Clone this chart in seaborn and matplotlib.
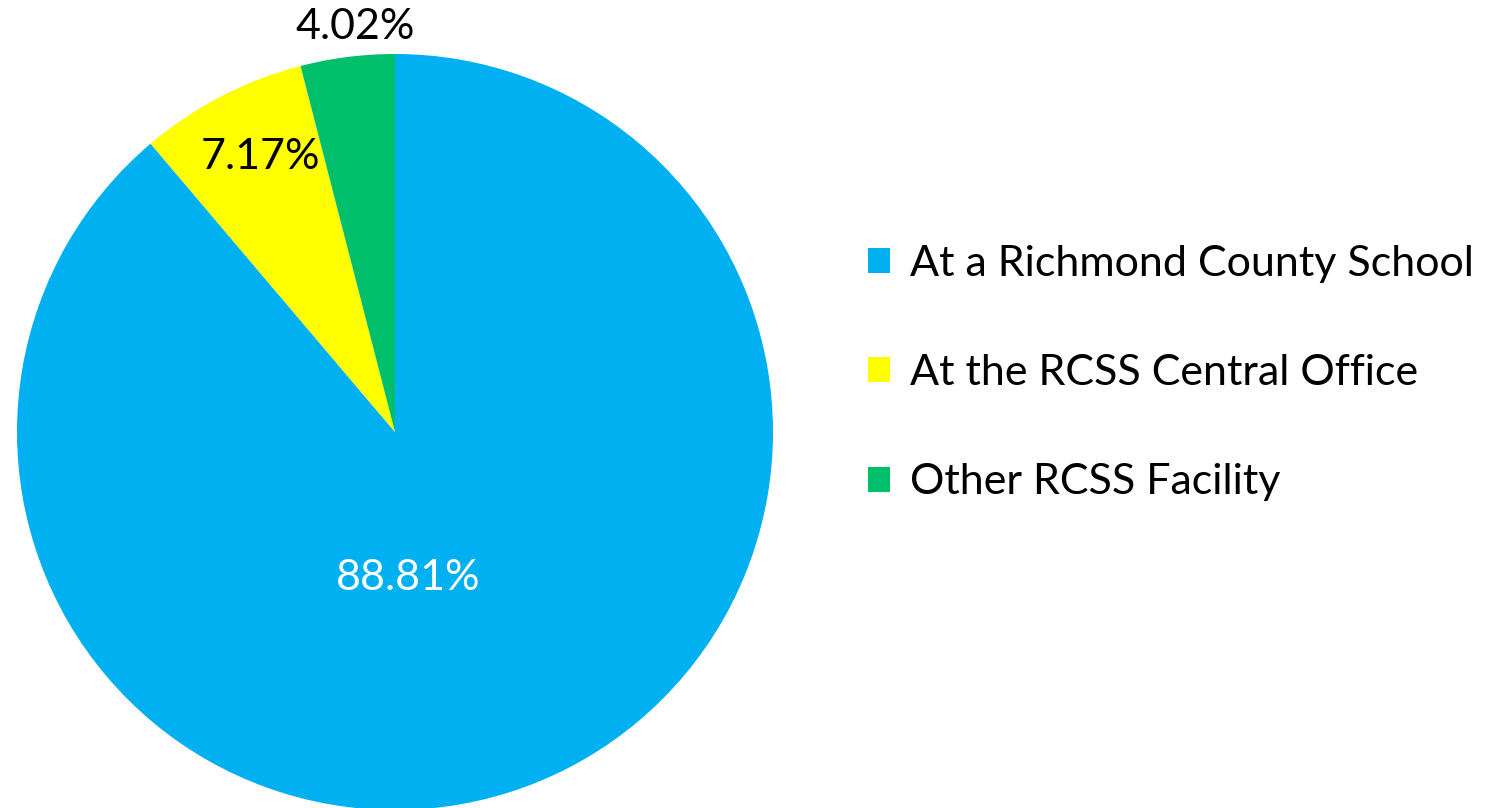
import matplotlib
matplotlib.use('Agg')
import matplotlib.pyplot as plt
import seaborn as sns
import numpy as np

sns.set_theme(style='white')
plt.rcParams['font.family'] = ['Lato', 'DejaVu Sans']
plt.rcParams['text.color'] = 'black'

# data
categories = ['At a Richmond County School', 'At the RCSS Central Office', 'Other RCSS Facility']
shares = [88.81, 7.17, 4.02]
colors = ['#00B0F0', '#FFFF00', '#00BF6B']
label_colors = ['white', 'black', 'black']

W, H = 1491, 808
fig = plt.figure(figsize=(W / 100, H / 100), dpi=100)
fig.patch.set_facecolor('white')

cx, cy, r = 395, 432, 378
ax = fig.add_axes([(cx - r) / W, (H - cy - r) / H, 2 * r / W, 2 * r / H])

wedges, _ = ax.pie(shares, colors=colors, startangle=90, counterclock=False,
                   radius=1.0, wedgeprops=dict(linewidth=0))
ax.set_xlim(-1, 1)
ax.set_ylim(-1, 1)
ax.set_aspect('auto')
ax.axis('off')

# label distances from centre (fraction of radius), like Excel's best-fit placement
dists = [0.41, 0.82, 1.08]
nudge_x = [0.0, 0.02, 0.03]
for i, (w, val, d, c) in enumerate(zip(wedges, shares, dists, label_colors)):
    mid = np.deg2rad((w.theta1 + w.theta2) / 2)
    x, y = d * np.cos(mid) + nudge_x[i], d * np.sin(mid)
    if i == 0:
        x = 0.034  # Excel nudges the big slice label toward the middle
    ax.text(x, y, f'{val:.2f}%', ha='center', va='center', fontsize=31, color=c,
            clip_on=False)

fig.legend(wedges, categories, loc='center left',
           bbox_to_anchor=(868 / W, (H - 373) / H), frameon=False,
           fontsize=31, labelcolor='black', handlelength=0.52, handleheight=0.52,
           handletextpad=0.45, labelspacing=1.66, borderpad=0, borderaxespad=0)

fig.savefig('out.png', dpi=100, facecolor='white')
